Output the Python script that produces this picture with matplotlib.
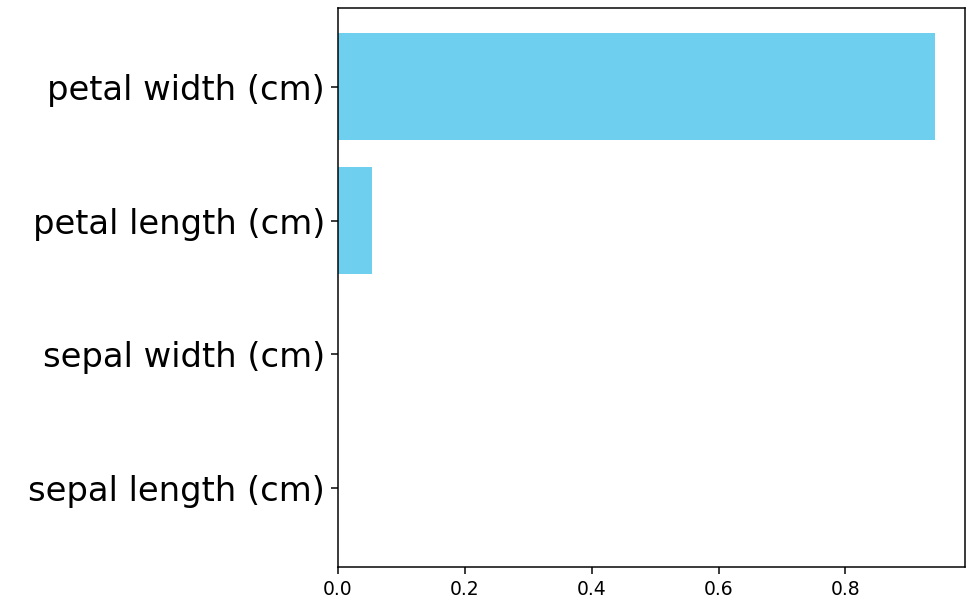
import matplotlib
matplotlib.use("Agg")
from matplotlib import pyplot as plt

features = ['sepal length (cm)', 'sepal width (cm)', 'petal length (cm)', 'petal width (cm)']
importances = [0.0, 0.0, 0.054, 0.942]

dpi = 135
fig = plt.figure(figsize=(977 / dpi, 605 / dpi), dpi=dpi)
ax = fig.add_axes([0.346, 0.063, 0.642, 0.924])
ax.barh(range(len(features)), importances, color='#6FCFEF')
ax.set_yticks(range(len(features)))
ax.set_yticklabels(features, fontsize=18)
fig.savefig('out.png', dpi=dpi)
